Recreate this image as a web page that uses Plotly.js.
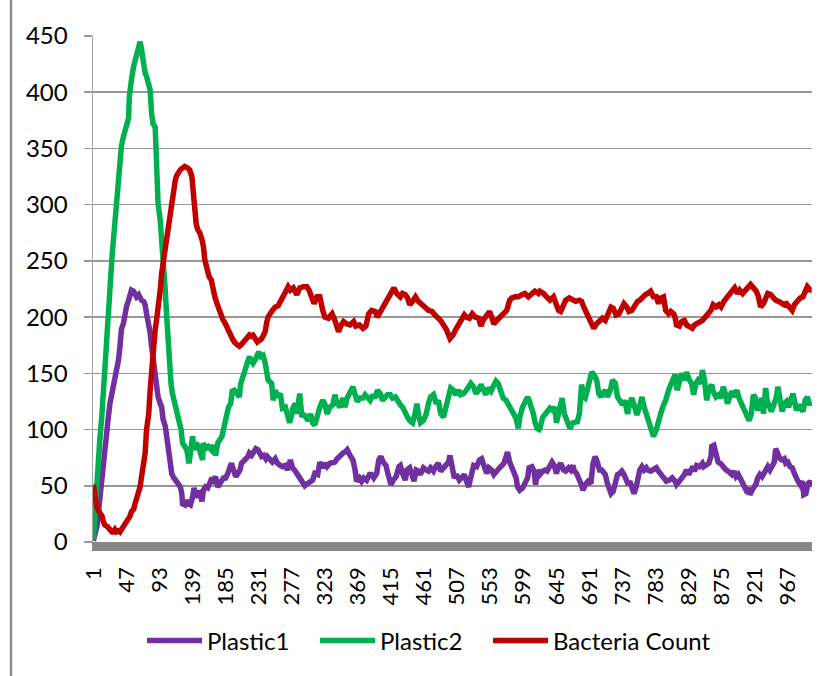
<!DOCTYPE html>
<html>
<head>
<meta charset="utf-8">
<script src="https://cdn.plot.ly/plotly-3.0.1.min.js"></script>
<style>
  html, body { margin: 0; padding: 0; background: #ffffff; }
  #chart { width: 835px; height: 676px; }
</style>
</head>
<body>
<div id="chart"></div>
<script>
// ---- Data ----
var tickValues = [1, 47, 93, 139, 185, 231, 277, 323, 369, 415, 461, 507, 553, 599, 645, 691, 737, 783, 829, 875, 921, 967];
var tickLabels = ["1", "47", "93", "139", "185", "231", "277", "323", "369", "415", "461", "507", "553", "599", "645", "691", "737", "783", "829", "875", "921", "967"];

var plastic1X = [1,3,6,8,10,13,15,17,20,22,24,27,29,31,33,36,38,40,43,45,47,50,52,54,57,59,61,64,66,68,71,73,75,78,80,82,84,87,89,91,94,96,98,101,103,105,108,110,112,115,117,119,122,124,125,128,130,133,136,139,141,143,146,149,152,154,157,160,163,166,168,171,174,177,179,182,185,188,191,193,196,199,202,205,207,210,213,216,218,221,224,227,230,232,235,238,241,243,246,
250,254,257,261,264,268,271,275,278,282,285,288,292,295,299,302,306,309,313,316,320,323,326,330,334,337,340,344,348,351,354,358,362,365,367,371,374,377,381,385,388,391,395,398,401,404,408,411,415,418,422,426,428,431,435,437,441,444,447,450,453,456,460,464,467,470,474,477,481,484,488,492,495,497,500,503,506,510,513,517,520,523,525,528,530,534,538,541,544,548,551,555,558,562,566,569,572,575,577,580,583,586,589,591,594,598,601,605,607,611,614,616,619,
622,626,629,632,636,639,642,645,648,651,655,658,662,665,668,670,673,676,679,682,685,689,693,696,699,702,705,708,710,713,716,719,721,724,727,730,733,736,739,742,745,747,750,753,756,759,761,764,767,770,772,776,780,784,787,791,795,798,802,806,810,812,816,820,823,826,829,832,835,837,840,844,848,850,854,857,860,861,864,867,870,873,875,878,881,884,887,889,892,895,898,900,903,906,909,912,914,917,920,923,925,928,931,934,937,939,942,945,948,950,953,956,959,962,964,967,970,973,976,978,981,984,987,989,992,995,998,1000];
var plastic1Y = [1,5,14,26,40,58,73,85,100,112,123,132,141,147,150,162,174,189,195,203,209,215,221,224,223,221,218,220,217,215,214,211,203,195,186,174,163,153,135,129,123,120,109,103,94,82,70,61,58,55,54,51,49,43,34,33,37,34,33,40,48,43,40,46,36,46,49,48,52,57,55,58,49,51,54,57,57,61,67,70,64,58,61,64,70,73,74,76,79,77,80,83,82,79,76,77,74,76,73,
71,74,70,68,67,68,64,73,66,63,60,57,52,50,52,54,55,61,60,71,66,70,67,70,71,71,74,77,79,80,82,77,73,64,54,57,54,57,55,60,60,57,61,73,76,71,68,60,51,55,58,67,68,61,55,64,66,60,54,64,63,60,66,64,63,66,63,67,70,63,66,68,71,77,64,57,60,55,57,60,54,49,55,64,68,67,73,74,68,61,66,64,60,64,66,68,70,76,80,71,67,63,57,49,46,48,52,57,66,67,63,51,64,
60,63,64,63,67,71,68,61,67,70,64,63,66,64,68,63,61,57,52,46,51,54,52,70,76,71,64,64,63,60,52,46,43,45,52,60,61,63,60,55,51,54,48,43,49,58,64,67,64,66,64,63,64,66,63,60,57,54,55,57,54,51,54,57,60,64,60,64,67,63,68,67,70,67,68,70,76,85,86,80,71,70,68,67,64,63,60,60,63,58,60,57,55,49,46,48,42,46,49,52,57,60,58,61,64,67,64,68,71,83,79,74,73,74,70,71,67,66,61,57,54,51,54,42,43,52,54,49];

var plastic2X = [1,3,6,8,10,13,15,17,20,22,24,27,29,31,33,36,38,40,43,45,47,50,51,52,54,57,59,61,64,66,68,71,73,75,78,80,82,84,87,88,90,91,94,96,98,101,103,105,108,109,111,114,117,120,123,125,128,131,134,137,139,141,144,147,150,153,154,157,161,165,168,171,174,177,180,183,186,189,192,194,197,200,204,206,209,212,215,218,220,223,226,229,231,234,237,240,242,244,
249,251,254,257,261,264,268,271,274,277,279,282,284,288,291,293,297,300,303,306,309,313,316,320,323,326,330,334,337,340,344,348,351,354,358,362,365,368,372,376,379,382,386,390,393,396,400,403,407,410,414,417,421,424,428,431,435,438,441,445,448,451,453,456,460,464,467,470,474,478,481,484,488,492,495,498,502,505,509,512,516,519,523,526,530,533,537,540,543,547,550,554,557,561,564,568,571,575,578,581,585,589,592,594,598,601,605,607,611,613,615,618,621,
622,626,629,632,636,640,643,645,648,651,653,656,658,661,664,668,671,674,677,680,683,685,688,691,694,697,701,704,707,709,713,716,720,723,727,730,734,737,740,744,747,750,753,757,760,764,767,770,773,776,780,784,787,790,794,797,801,804,807,810,813,816,819,823,826,830,833,836,839,842,846,848,851,854,857,861,863,867,871,874,877,880,883,886,889,892,896,899,903,906,910,913,916,919,922,925,927,931,933,936,938,941,944,948,951,953,956,959,962,965,968,971,974,976,979,982,985,988,991,994,997,1000];
var plastic2Y = [2,26,46,70,91,114,135,159,189,218,239,254,269,286,301,319,337,352,361,367,371,377,396,405,411,423,429,435,442,445,438,423,417,414,408,402,381,372,369,352,322,301,286,272,248,224,200,174,159,141,132,123,114,106,100,88,85,82,70,88,94,82,88,85,79,73,88,83,85,82,86,77,88,91,94,103,112,120,123,134,135,132,129,141,147,156,162,165,162,159,162,166,169,165,166,159,150,144,
141,126,135,129,132,119,120,111,106,114,120,123,114,132,111,114,111,108,114,106,104,114,120,126,123,114,120,122,131,123,120,128,120,128,132,138,131,125,128,128,131,129,126,131,128,135,132,126,128,131,131,128,129,125,122,120,113,111,108,106,113,123,114,106,108,114,123,129,131,123,126,114,111,123,132,137,135,131,135,131,132,134,138,141,138,132,135,140,135,131,137,134,138,143,141,134,128,126,123,119,114,110,101,111,120,125,129,126,120,114,107,101,100,
101,111,114,117,119,117,120,106,114,123,128,114,111,108,101,106,107,107,114,140,129,128,135,141,151,149,144,132,129,132,135,129,135,144,141,129,125,122,126,114,123,128,122,113,119,129,120,114,106,100,94,100,110,114,122,126,135,141,147,149,135,141,150,144,151,144,141,131,141,144,141,153,144,126,135,140,134,129,131,128,138,132,123,129,134,129,135,128,123,117,113,108,114,131,128,117,120,128,114,137,126,120,116,123,129,138,126,116,123,125,120,128,132,126,117,122,119,116,126,129,122,125];

var bacteriaX = [1,2,4,6,8,10,13,15,17,20,22,24,27,29,31,33,36,38,40,43,45,47,50,52,54,57,59,61,64,66,68,71,73,75,78,80,82,84,87,89,91,94,96,98,101,103,105,108,110,112,115,117,119,122,124,126,128,131,133,135,138,139,141,142,144,146,149,152,154,156,159,162,165,167,170,173,176,179,181,184,187,190,192,195,198,201,204,206,209,212,215,218,220,223,226,229,231,234,237,240,242,244,
250,254,258,262,265,269,272,275,279,284,288,293,298,301,305,308,312,316,320,323,328,333,337,342,345,349,353,358,363,366,371,376,380,384,388,393,396,401,404,408,411,415,419,423,428,431,435,438,441,445,449,453,458,462,467,472,476,481,484,488,492,497,501,505,509,513,517,520,524,528,532,537,540,543,548,552,555,558,562,567,571,576,580,583,588,592,597,601,606,611,615,620,
622,627,632,636,641,645,648,651,655,658,663,668,672,677,680,683,687,691,694,697,701,705,709,713,717,721,724,728,732,736,739,743,746,750,754,758,761,765,769,772,776,780,784,787,790,794,797,801,804,808,810,812,816,819,823,826,830,834,837,841,845,848,852,856,860,863,867,871,874,878,882,886,889,893,897,900,904,908,912,915,919,923,926,929,933,936,939,943,947,950,954,958,962,965,969,973,976,980,984,988,991,994,998,1000];
var bacteriaY = [51,46,37,31,28,26,23,18,15,14,12,11,9,9,11,9,10,9,11,12,15,17,20,23,27,29,34,39,43,49,58,70,79,100,114,135,153,165,189,198,206,224,239,248,260,269,281,289,301,313,322,326,329,331,332,334,334,333,332,331,325,316,307,295,283,278,275,269,263,251,242,236,233,224,218,212,206,203,198,195,190,187,183,180,177,175,174,175,177,180,181,184,183,184,181,178,179,180,183,187,195,200,
206,209,210,215,218,223,227,224,226,220,226,227,227,224,218,212,218,218,206,200,199,203,197,187,192,196,194,193,196,192,193,190,192,203,206,205,200,206,209,215,218,221,226,221,218,221,220,217,211,214,218,214,212,209,206,205,202,199,197,193,189,181,184,189,193,199,202,200,199,203,200,199,192,197,202,205,200,194,197,200,203,206,215,217,218,218,220,221,218,220,223,221,
223,221,217,215,218,211,206,205,212,215,217,215,214,215,214,209,203,200,193,190,194,197,199,197,203,209,208,202,203,208,212,209,205,206,211,214,215,218,220,221,223,218,218,212,217,218,206,203,205,203,200,193,192,196,197,193,192,190,193,194,196,197,200,203,206,211,209,211,209,214,217,221,223,226,221,224,221,224,226,229,226,223,218,209,212,217,221,220,217,215,214,212,211,212,209,206,211,214,217,218,223,227,224,224];

// ---- Geometry helpers (figure pixels -> paper fractions) ----
var W = 835, H = 676;
var M = {l: 93, r: 23, t: 36, b: 134};
var plotW = W - M.l - M.r, plotH = H - M.t - M.b;
function px2paperX(px) { return (px - M.l) / plotW; }
function px2paperY(py) { return (H - M.b - py) / plotH; }

var FONT = "Lato, 'Noto Sans', 'DejaVu Sans', sans-serif";
var LINE_W = 5.5;

var traces = [
  {x: plastic1X, y: plastic1Y, name: "Plastic1", type: "scatter", mode: "lines",
   legendwidth: 103,
   line: {color: "#7030A0", width: LINE_W}},
  {x: plastic2X, y: plastic2Y, name: "Plastic2", type: "scatter", mode: "lines",
   legendwidth: 103,
   line: {color: "#00B050", width: LINE_W}},
  {x: bacteriaX, y: bacteriaY, name: "Bacteria Count", type: "scatter", mode: "lines",
   legendwidth: 165,
   line: {color: "#C00000", width: LINE_W}}
];

var layout = {
  width: W, height: H,
  margin: M,
  paper_bgcolor: "#ffffff",
  plot_bgcolor: "#ffffff",
  font: {family: FONT, size: 22, color: "#000000"},
  showlegend: true,
  xaxis: {
    type: "linear",
    range: [0.5, 1000.5],
    tickmode: "array",
    tickvals: tickValues,
    ticktext: tickLabels,
    tickangle: -90,
    ticks: "",
    showgrid: false,
    zeroline: false,
    showline: true,
    linecolor: "#878787",
    linewidth: 8.5,
    ticklabelstandoff: 8,
    tickfont: {family: FONT, size: 22, color: "#000000"},
    fixedrange: true
  },
  yaxis: {
    range: [0, 450],
    tickmode: "linear",
    tick0: 0,
    dtick: 50,
    ticks: "outside",
    ticklen: 8,
    tickwidth: 1.5,
    tickcolor: "#989898",
    showgrid: true,
    gridcolor: "#989898",
    gridwidth: 1.5,
    zeroline: false,
    showline: true,
    linecolor: "#a6a6a6",
    linewidth: 1.5,
    ticklabelstandoff: 11,
    tickfont: {family: FONT, size: 24, color: "#000000"},
    fixedrange: true
  },
  legend: {
    orientation: "h",
    x: px2paperX(142),
    xanchor: "left",
    y: px2paperY(641),
    yanchor: "middle",
    font: {family: FONT, size: 24, color: "#000000"},
    bgcolor: "rgba(0,0,0,0)",
    itemwidth: 55,
    traceorder: "normal"
  },
  shapes: [
    {type: "line", xref: "paper", yref: "paper",
     x0: px2paperX(11), x1: px2paperX(11), y0: px2paperY(H + 5), y1: px2paperY(-5),
     line: {color: "#8c8c8c", width: 2.5}}
  ]
};

Plotly.newPlot("chart", traces, layout, {displayModeBar: false, staticPlot: true});
</script>
</body>
</html>
